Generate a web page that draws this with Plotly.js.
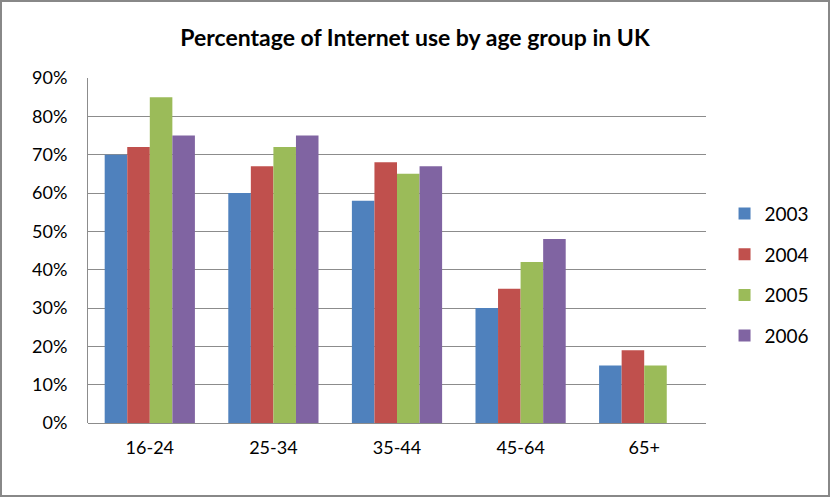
<!DOCTYPE html>
<html><head><meta charset="utf-8">
<script src="https://cdn.plot.ly/plotly-3.0.1.min.js"></script>
<style>html,body{margin:0;padding:0;background:#fff}#chart{width:830px;height:497px;box-sizing:border-box;border:2px solid #888}</style>
</head><body><div id="chart"></div>
<script>
const categories = ["16-24","25-34","35-44","45-64","65+"];
const years = ["2003","2004","2005","2006"];
const v2003 = [70, 60, 58, 30, 15];
const v2004 = [72, 67, 68, 35, 19];
const v2005 = [85, 72, 65, 42, 15];
const v2006 = [75, 75, 67, 48, null];
const colors = ["#4F81BD","#C0504D","#9BBB59","#8064A2"];
const series = [v2003, v2004, v2005, v2006];
const traces = series.map((s,i)=>({type:"bar", name:years[i], legendgroup:"g"+i, x:categories, y:s, marker:{color:colors[i]}}));
const font = "Lato, 'Open Sans', sans-serif";
Plotly.newPlot("chart", traces, {
  width:826, height:493,
  margin:{l:86, r:122, t:76, b:72},
  title:{text:"<b>Percentage of Internet use by age group in UK</b>", x:0.5, xanchor:"center", y:0.928, yanchor:"middle", font:{family:font, size:23, color:"#000"}},
  barmode:"group", bargap:0.27, bargroupgap:0,
  xaxis:{showline:false, ticks:"", tickfont:{family:font, size:18, color:"#000"}, ticklabelstandoff:12},
  yaxis:{range:[0,90], dtick:10, ticksuffix:"%", showgrid:true, gridcolor:"#8c8c8c", gridwidth:1, showline:true, linecolor:"#8c8c8c", zeroline:true, zerolinecolor:"#8c8c8c", ticks:"", tickfont:{family:font, size:18, color:"#000"}, ticklabelstandoff:16},
  legend:{x:1.03, y:0.43, yanchor:"middle", xanchor:"left", font:{family:font, size:19, color:"#000"}, tracegroupgap:13, itemwidth:30},
  plot_bgcolor:"#fff", paper_bgcolor:"#fff", showlegend:true
}, {displayModeBar:false});
</script></body></html>
